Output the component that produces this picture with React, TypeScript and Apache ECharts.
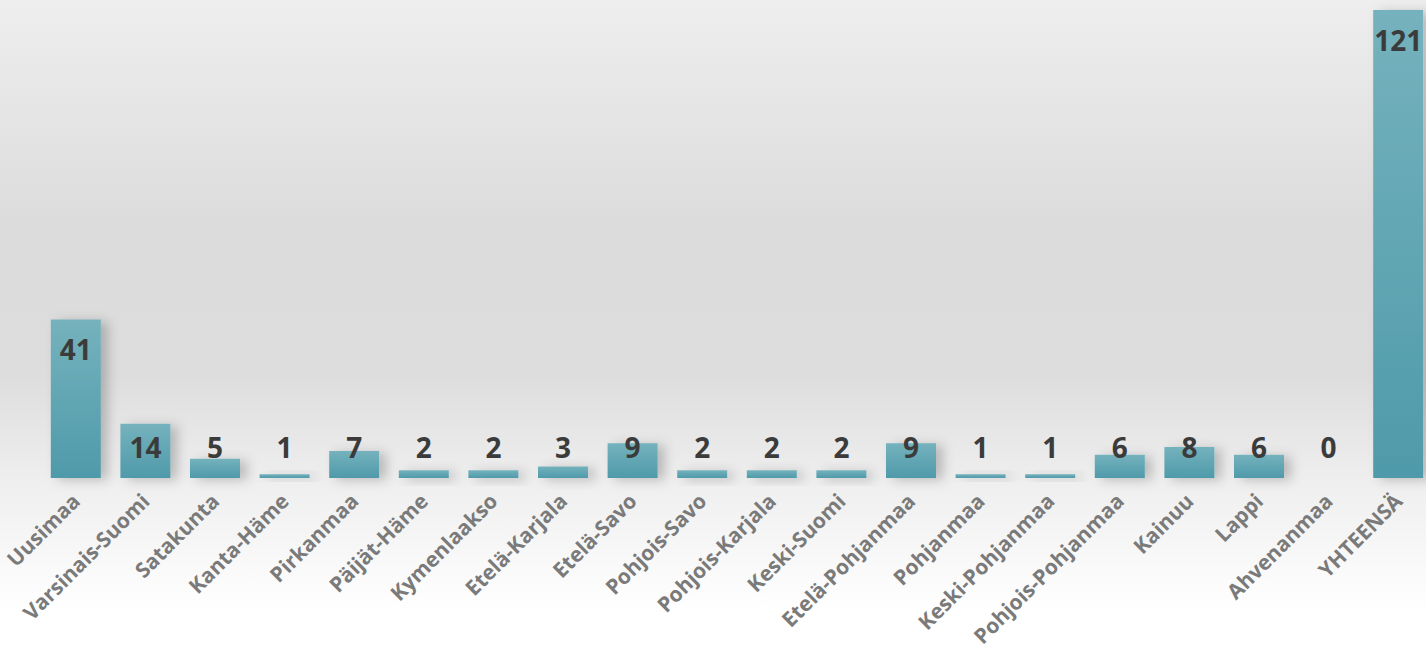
import React, { useEffect, useRef } from "react";
import * as echarts from "echarts";

const categories = [
  "Uusimaa",
  "Varsinais-Suomi",
  "Satakunta",
  "Kanta-Häme",
  "Pirkanmaa",
  "Päijät-Häme",
  "Kymenlaakso",
  "Etelä-Karjala",
  "Etelä-Savo",
  "Pohjois-Savo",
  "Pohjois-Karjala",
  "Keski-Suomi",
  "Etelä-Pohjanmaa",
  "Pohjanmaa",
  "Keski-Pohjanmaa",
  "Pohjois-Pohjanmaa",
  "Kainuu",
  "Lappi",
  "Ahvenanmaa",
  "YHTEENSÄ",
];

const values = [41, 14, 5, 1, 7, 2, 2, 3, 9, 2, 2, 2, 9, 1, 1, 6, 8, 6, 0, 121];

const FONT = "'Open Sans', 'Liberation Sans', sans-serif";

export default function App() {
  const ref = useRef<HTMLDivElement>(null);

  useEffect(() => {
    if (!ref.current) return;
    const chart = echarts.init(ref.current, undefined, { renderer: "svg" });

    const data = values.map((v) => {
      const big = v >= 16;
      return {
        value: v,
        label: big
          ? { position: "insideTop", distance: 16 }
          : { position: "insideBottom", distance: 17 },
      };
    });

    chart.setOption({
      animation: false,
      backgroundColor: {
        type: "linear",
        x: 0,
        y: 0,
        x2: 0,
        y2: 1,
        colorStops: [
          { offset: 0, color: "#eeeeee" },
          { offset: 0.35, color: "#dcdcdc" },
          { offset: 0.58, color: "#dddddd" },
          { offset: 0.75, color: "#efefef" },
          { offset: 0.95, color: "#ffffff" },
          { offset: 1, color: "#ffffff" },
        ],
      },
      grid: {
        left: 41,
        width: 1392,
        top: 10,
        bottom: 167,
        containLabel: false,
        outerBoundsMode: "none",
      },
      xAxis: {
        type: "category",
        data: categories,
        axisLine: { show: false },
        axisTick: { show: false },
        axisLabel: {
          interval: 0,
          rotate: 45,
          margin: 19,
          color: "#7a7a7a",
          fontWeight: "bold",
          fontSize: 21,
          fontFamily: FONT,
          hideOverlap: false,
        },
      },
      yAxis: {
        type: "value",
        min: 0,
        max: 121,
        show: false,
        splitLine: { show: false },
      },
      series: [
        {
          type: "bar",
          data,
          barWidth: 50,
          itemStyle: {
            color: {
              type: "linear",
              x: 0,
              y: 0,
              x2: 0,
              y2: 1,
              colorStops: [
                { offset: 0, color: "#75b2bd" },
                { offset: 1, color: "#4f9aaa" },
              ],
            },
            shadowColor: "rgba(0,0,0,0.22)",
            shadowBlur: 12,
            shadowOffsetX: 7,
            shadowOffsetY: 2,
          },
          label: {
            show: true,
            color: "#3b3b3b",
            fontWeight: "bold",
            fontSize: 28,
            fontFamily: FONT,
          },
        },
      ],
    });

    return () => chart.dispose();
  }, []);

  return (
    <div
      ref={ref}
      style={{ position: "absolute", left: 0, top: 0, width: 1426, height: 645 }}
    />
  );
}
